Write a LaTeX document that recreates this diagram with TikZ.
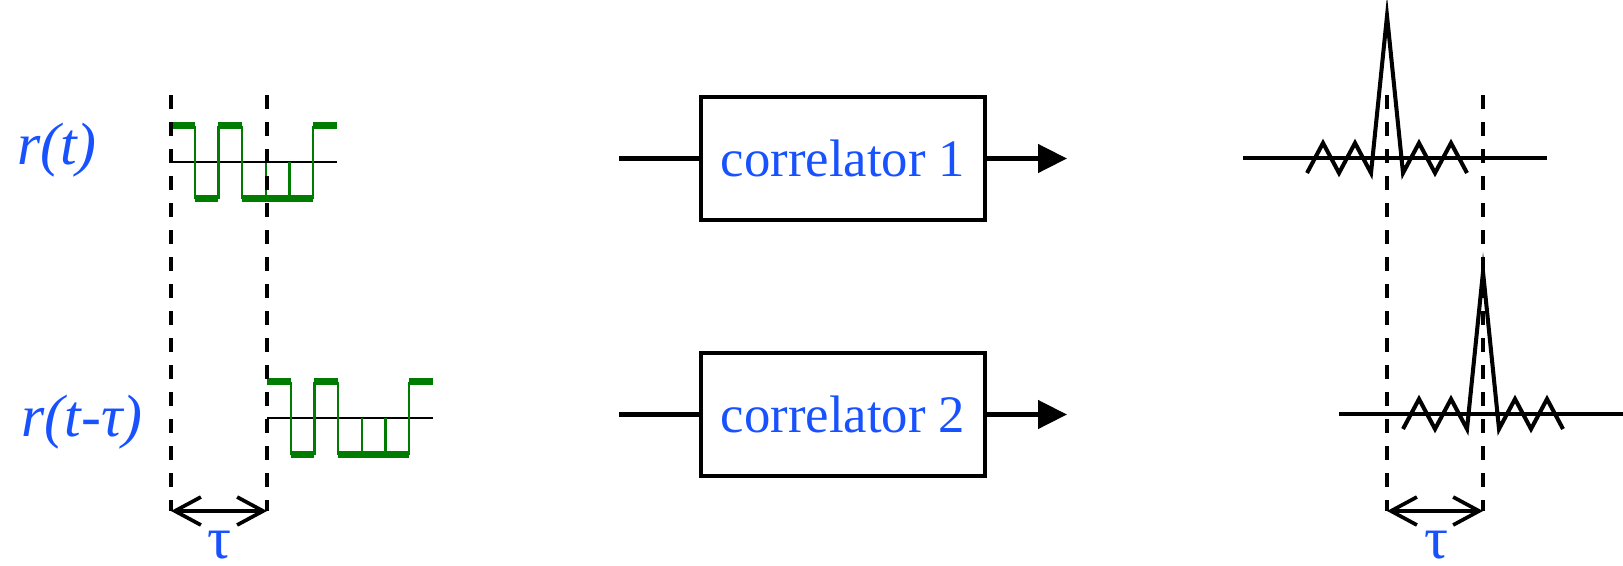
\documentclass[tikz,border=0pt]{standalone}
\usepackage{fontspec}
\setmainfont{Liberation Serif}
\usetikzlibrary{arrows.meta, positioning, calc}
\definecolor{sigblue}{RGB}{24,82,255}
\definecolor{chipgreen}{RGB}{0,125,0}

\begin{document}
\begin{tikzpicture}[
  corr/.style={draw, line width=1.3pt, minimum width=2.84cm, minimum height=1.23cm, inner sep=0pt, text=sigblue, font=\fontsize{15}{18}\selectfont},
  wire/.style={line width=1.3pt},
  lbl/.style={text=sigblue, font=\fontsize{17}{20}\selectfont\itshape},
  taulbl/.style={text=sigblue, inner sep=0pt, font=\fontsize{17}{20}\selectfont},
  vdash/.style={line width=1.05pt, dash pattern=on 0.14cm off 0.13cm},
  tarrow/.style={line width=1.05pt, {Straight Barb[length=0.26cm, width=0.28cm]}-{Straight Barb[length=0.26cm, width=0.28cm]}},
  chip/.style={chipgreen, line width=2.1pt},
  chipedge/.style={chipgreen, line width=0.65pt},
  peak/.style={line width=1.15pt}
  ]
  \useasboundingbox (0,0) rectangle (16.23,5.65);

  % spreading code and its delayed copy
  \node[lbl] (rt) at (0.57,4.15) {r(t)};
  \node[lbl] (rtau) at (0.82,1.43) {r(t-τ)};
  \foreach \sx/\sy in {1.71/4.03, 2.67/1.47} {
    \begin{scope}[shift={(\sx,\sy)}, x=0.237cm, y=0.365cm]
    \draw[line width=0.65pt] (0,0) -- (7,0);
    \foreach \i/\s in {0/1, 1/-1, 2/1, 3/-1, 4/-1, 5/-1, 6/1}
      \draw[chip] (\i,\s) -- ++(1,0);
    \foreach \i/\a/\b in {1/1/-1, 2/-1/1, 3/1/-1, 4/0/-1, 5/0/-1, 6/-1/1}
      \draw[chipedge] (\i,\a) -- (\i,\b);
    \end{scope}
  }

  % correlators
  \node[corr] (c1) at (8.43,4.065) {correlator 1};
  \node[corr] (c2) at (8.43,1.505) {correlator 2};
  \coordinate (in1) at (6.19,4.065); \coordinate (out1) at (10.67,4.065);
  \coordinate (in2) at (6.19,1.505); \coordinate (out2) at (10.67,1.505);
  \draw[wire] (in1) -- (c1);
  \draw[wire, -{Triangle[length=0.29cm, width=0.28cm]}] (c1) -- (out1);
  \draw[wire] (in2) -- (c2);
  \draw[wire, -{Triangle[length=0.29cm, width=0.28cm]}] (c2) -- (out2);

  % correlation peaks
  \foreach \px/\py/\xr in {13.87/4.07/1.60, 14.83/1.51/1.40} {
    \begin{scope}[shift={(\px,\py)}]
    \draw[peak] (-1.44,0) -- (\xr,0);
    \draw[peak] (-0.8,-0.15) -- (-0.64,0.15) -- (-0.48,-0.15) -- (-0.32,0.15) -- (-0.16,-0.15)
      -- (0,1.42) -- (0.16,-0.15) -- (0.32,0.15) -- (0.48,-0.15) -- (0.64,0.15) -- (0.8,-0.15);
    \end{scope}
  }

  % delay markers
  \foreach \x in {1.71, 2.67, 13.87, 14.83}
    \draw[vdash] (\x,4.70) -- (\x,0.54);
  \coordinate (ta) at (1.71,0.54); \coordinate (tb) at (2.67,0.54);
  \coordinate (tc) at (13.87,0.54); \coordinate (td) at (14.83,0.54);
  \draw[tarrow] (ta) -- (tb);
  \draw[tarrow] (tc) -- (td);
  \node[taulbl] (tau1) at (2.19,0.20) {τ};
  \node[taulbl] (tau2) at (14.36,0.20) {τ};
\end{tikzpicture}
\end{document}
